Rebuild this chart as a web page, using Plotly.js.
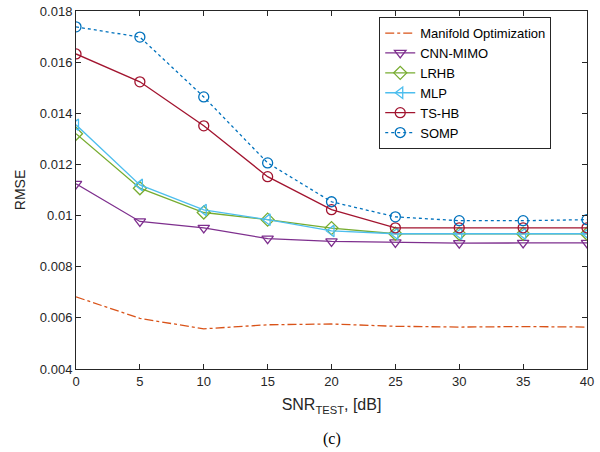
<!DOCTYPE html>
<html><head><meta charset="utf-8">
<script src="https://cdn.plot.ly/plotly-3.0.1.min.js"></script>
<style>body{margin:0;background:#fff}#c{width:600px;height:452px}</style>
</head><body><div id="c"></div>
<script>
const snr = [0, 5, 10, 15, 20, 25, 30, 35, 40];
const manifold = [0.00682, 0.00598, 0.00557, 0.00573, 0.00576, 0.00567, 0.00564, 0.00566, 0.00564];
const cnnMimo = [0.01124, 0.00977, 0.00952, 0.00910, 0.00899, 0.00895, 0.00892, 0.00893, 0.00893];
const lrhb = [0.01320, 0.01107, 0.01012, 0.00984, 0.00951, 0.00929, 0.00929, 0.00929, 0.00929];
const mlp = [0.01355, 0.01120, 0.01022, 0.00984, 0.00940, 0.00929, 0.00929, 0.00929, 0.00929];
const tshb = [0.01632, 0.01523, 0.01351, 0.01152, 0.01023, 0.00952, 0.00952, 0.00952, 0.00952];
const somp = [0.01738, 0.01698, 0.01464, 0.01206, 0.01054, 0.00995, 0.00980, 0.00980, 0.00984];
const yTickVals = [0.004, 0.006, 0.008, 0.01, 0.012, 0.014, 0.016, 0.018];
const yTickText = ['0.004', '0.006', '0.008', '0.01', '0.012', '0.014', '0.016', '0.018'];
const xTickVals = [0, 5, 10, 15, 20, 25, 30, 35, 40];

function tr(name, y, color, symbol, dash) {
  const t = {x: snr, y: y, name: name, type: 'scatter',
    mode: symbol ? 'lines+markers' : 'lines',
    line: {color: color, width: 1.3, dash: dash || 'solid'}};
  if (symbol) t.marker = {symbol: symbol, size: 10, color: color, line: {color: color, width: 1.3}};
  return t;
}
const data = [
  tr('Manifold Optimization', manifold, '#D95319', null, 'dashdot'),
  tr('CNN-MIMO', cnnMimo, '#7E2F8E', 'triangle-down-open'),
  tr('LRHB', lrhb, '#77AC30', 'diamond-open'),
  tr('MLP', mlp, '#4DBEEE', 'triangle-left-open'),
  tr('TS-HB', tshb, '#A2142F', 'circle-open'),
  tr('SOMP', somp, '#0072BD', 'circle-open', 'dot')
];
const axFont = {family: 'Liberation Sans, Arial, sans-serif', size: 13, color: '#262626'};
const layout = {
  width: 600, height: 452,
  margin: {l: 76, r: 13, t: 11, b: 83},
  paper_bgcolor: '#fff', plot_bgcolor: '#fff',
  showlegend: true,
  legend: {x: 0.93, xanchor: 'right', y: 0.983, yanchor: 'top',
    bgcolor: '#fff', bordercolor: '#262626', borderwidth: 1,
    font: {family: 'Liberation Sans, Arial, sans-serif', size: 13, color: '#000'},
    tracegroupgap: 0, itemwidth: 30},
  xaxis: {range: [0, 40], tickvals: xTickVals, ticks: 'inside', ticklen: 5, tickcolor: '#262626',
    showline: true, linecolor: '#262626', linewidth: 1, mirror: 'ticks', showgrid: false, zeroline: false,
    tickfont: axFont,
    title: {text: 'SNR<sub>TEST</sub>, [dB]', font: {family: 'Liberation Sans, Arial, sans-serif', size: 16, color: '#262626'}, standoff: 11}},
  yaxis: {range: [0.004, 0.018], tickvals: yTickVals, ticktext: yTickText, ticks: 'inside', ticklen: 5, tickcolor: '#262626',
    showline: true, linecolor: '#262626', linewidth: 1, mirror: 'ticks', showgrid: false, zeroline: false,
    tickfont: axFont,
    title: {text: 'RMSE', font: {family: 'Liberation Sans, Arial, sans-serif', size: 14, color: '#262626'}, standoff: 10}},
  annotations: [{text: '(c)', xref: 'paper', yref: 'paper', x: 0.5, y: 0, yshift: -59, showarrow: false,
    xanchor: 'center', yanchor: 'top', font: {family: 'Liberation Serif, Times New Roman, serif', size: 16, color: '#000'}}]
};
Plotly.newPlot('c', data, layout, {displayModeBar: false, staticPlot: true});
</script></body></html>
